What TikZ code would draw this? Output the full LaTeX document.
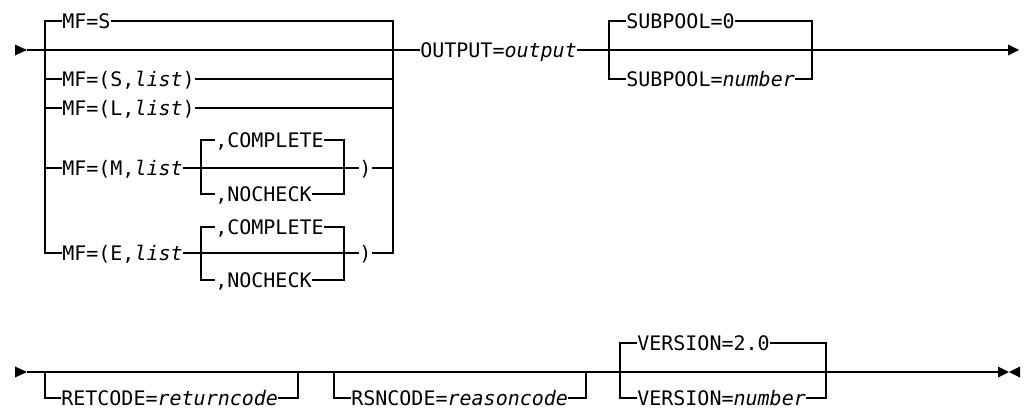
\documentclass[tikz,border=0pt]{standalone}
\usepackage{fontspec}
\setmonofont{DejaVu Sans Mono}
\begin{document}
\begin{tikzpicture}[x=0.75pt,y=-0.75pt,
  rr/.style={line width=1pt, line join=miter},
  lbl/.style={font=\ttfamily\fontsize{15}{18}\selectfont, anchor=west, inner sep=0pt, text height=10.9pt, text depth=0pt},
  tipfill/.style={fill=black}]
\useasboundingbox (0,0) rectangle (1024,412);

% ---------- top diagram ----------
\coordinate (a0) at (27,50);
\coordinate (L1t) at (45,21);
\coordinate (L1b) at (45,253);
\coordinate (R1t) at (393,21);
\coordinate (R1b) at (393,253);
\coordinate (ml) at (201,168);
\coordinate (mr) at (344,168);
\coordinate (el) at (201,253);
\coordinate (er) at (344,253);
\coordinate (sl) at (609,50);
\coordinate (sr) at (812,50);
\coordinate (a1) at (1008,50);

\node[lbl] (mfs) at (62,21) {MF=S};
\node[lbl] (mfsl) at (62,79) {MF=(S,\textit{list})};
\node[lbl] (mfll) at (62,108) {MF=(L,\textit{list})};
\node[lbl] (mfm) at (62,168) {MF=(M,\textit{list}};
\node[lbl] (mcomp) at (215,140) {,COMPLETE};
\node[lbl] (mnoch) at (215,194) {,NOCHECK};
\node[lbl] (mpar) at (359,168) {)};
\node[lbl] (mfe) at (62,253) {MF=(E,\textit{list}};
\node[lbl] (ecomp) at (215,227) {,COMPLETE};
\node[lbl] (enoch) at (215,280) {,NOCHECK};
\node[lbl] (epar) at (359,253) {)};
\node[lbl] (out) at (420,50) {OUTPUT=\textit{output}};
\node[lbl] (sp0) at (626,21) {SUBPOOL=0};
\node[lbl] (spn) at (626,79) {SUBPOOL=\textit{number}};

\fill[tipfill] (a0) -- ++(-12,-5.5) -- ++(0,11) -- cycle;
\draw[rr] (a0) -- (out.west);
\draw[rr] (mfs.west) -- (L1t) -- (L1b) -- (mfe.west);
\draw[rr] (mfs.east) -- (R1t) -- (R1b) -- (epar.east);
\draw[rr] (L1t |- mfsl.west) -- (mfsl.west);
\draw[rr] (mfsl.east) -- (R1t |- mfsl.east);
\draw[rr] (L1t |- mfll.west) -- (mfll.west);
\draw[rr] (mfll.east) -- (R1t |- mfll.east);
\draw[rr] (L1t |- mfm.west) -- (mfm.west);
\draw[rr] (mfm.east) -- (mpar.west);
\draw[rr] (mpar.east) -- (R1t |- mpar.east);
\draw[rr] (mcomp.west) -| (ml) |- (mnoch.west);
\draw[rr] (mcomp.east) -| (mr) |- (mnoch.east);
\draw[rr] (mfe.east) -- (epar.west);
\draw[rr] (ecomp.west) -| (el) |- (enoch.west);
\draw[rr] (ecomp.east) -| (er) |- (enoch.east);
\draw[rr] (out.east) -- (a1);
\draw[rr] (sp0.west) -| (sl) |- (spn.west);
\draw[rr] (sp0.east) -| (sr) |- (spn.east);
\fill[tipfill] (a1) -- ++(0,-5.5) -- ++(11,5.5) -- ++(-11,5.5) -- cycle;

% ---------- bottom diagram ----------
\coordinate (b0) at (27,372);
\coordinate (r1l) at (45,372);
\coordinate (r1r) at (298,372);
\coordinate (r2l) at (334,372);
\coordinate (r2r) at (586,372);
\coordinate (vl) at (620,372);
\coordinate (vr) at (826,372);
\coordinate (b1) at (998,372);
\coordinate (b2) at (1020,372);

\node[lbl] (ret) at (61,398) {RETCODE=\textit{returncode}};
\node[lbl] (rsn) at (351,398) {RSNCODE=\textit{reasoncode}};
\node[lbl] (v20) at (637,343) {VERSION=2.0};
\node[lbl] (vn) at (637,398) {VERSION=\textit{number}};

\fill[tipfill] (b0) -- ++(-12,-5.5) -- ++(0,11) -- cycle;
\draw[rr] (b0) -- (b1);
\draw[rr] (r1l) |- (ret.west);
\draw[rr] (ret.east) -| (r1r);
\draw[rr] (r2l) |- (rsn.west);
\draw[rr] (rsn.east) -| (r2r);
\draw[rr] (v20.west) -| (vl) |- (vn.west);
\draw[rr] (v20.east) -| (vr) |- (vn.east);
\fill[tipfill] (b1) -- ++(0,-5.5) -- ++(11,5.5) -- ++(-11,5.5) -- cycle;
\fill[tipfill] (b2) -- ++(0,-5.5) -- ++(-11,5.5) -- ++(11,5.5) -- cycle;
\end{tikzpicture}
\end{document}
